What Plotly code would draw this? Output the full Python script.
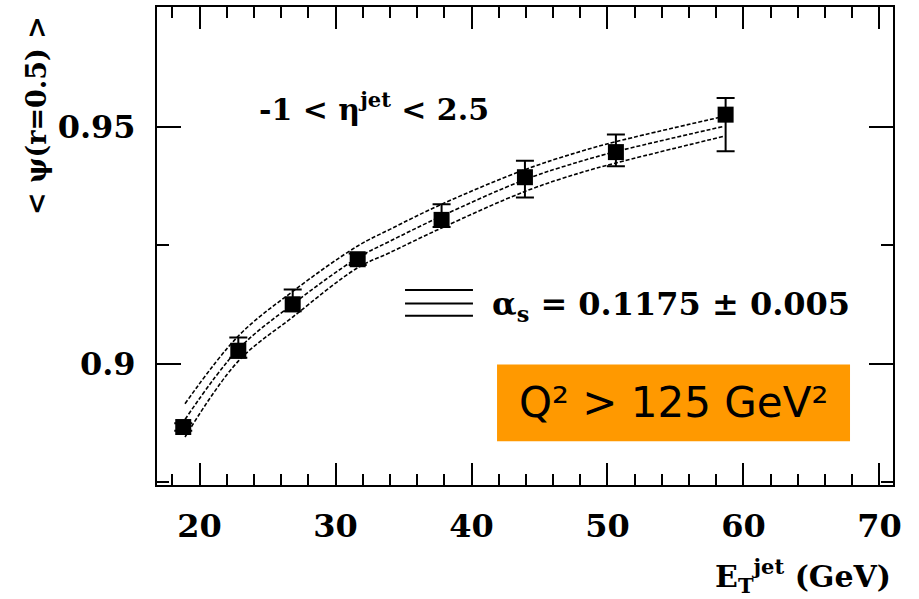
import plotly.graph_objects as go

# ---- data ----
et = [18.80, 22.85, 26.85, 31.63, 37.80, 43.93, 50.62, 58.69]
psi = [0.8866, 0.9027, 0.9125, 0.9220, 0.9303, 0.9393, 0.9446, 0.9525]
err_up = [0.0008, 0.0028, 0.0031, 0.0012, 0.0033, 0.0035, 0.0037, 0.0035]
err_dn = [0.0008, 0.0015, 0.0015, 0.0012, 0.0015, 0.0043, 0.0030, 0.0077]

curve_x = [18.93, 22.85, 26.85, 31.63, 34.0, 37.8, 43.93, 47.97, 50.62, 58.51]
curve_hi = [0.8915, 0.9058, 0.9152, 0.9248, 0.9283, 0.9336, 0.9409, 0.9447, 0.9468, 0.9521]
curve_mid = [0.8882, 0.9030, 0.9125, 0.9223, 0.9258, 0.9311, 0.9388, 0.9426, 0.9447, 0.9500]
curve_lo = [0.8845, 0.9005, 0.9098, 0.9202, 0.9234, 0.9286, 0.9363, 0.9402, 0.9423, 0.9479]

X_RANGE = [16.87, 71.0]
Y_RANGE = [0.87437, 0.97521]
SERIF = "DejaVu Serif"

fig = go.Figure()
for cy in (curve_hi, curve_mid, curve_lo):
    fig.add_trace(go.Scatter(x=curve_x, y=cy, mode="lines", line_shape="spline",
                             line=dict(color="black", width=1.6, dash="4px,2px"),
                             hoverinfo="skip", showlegend=False))

fig.add_trace(go.Scatter(
    x=et, y=psi, mode="markers",
    marker=dict(symbol="square", size=16, color="black"),
    error_y=dict(type="data", symmetric=False, array=err_up, arrayminus=err_dn,
                 color="black", thickness=2, width=9),
    showlegend=False))

fig.update_layout(
    xaxis=dict(range=X_RANGE, tickmode="linear", tick0=20, dtick=10, ticks="inside",
               ticklen=22, tickwidth=2, tickcolor="black", ticklabelstandoff=12,
               tickfont=dict(family=SERIF, size=32, color="black", weight="bold"),
               minor=dict(ticks="inside", tickmode="linear", tick0=0, dtick=2,
                          ticklen=11, tickwidth=2, tickcolor="black", showgrid=False),
               showline=True, linecolor="black", linewidth=2, mirror="allticks",
               showgrid=False, zeroline=False),
    yaxis=dict(range=Y_RANGE, tickmode="linear", tick0=0.9, dtick=0.05, ticks="inside",
               ticklen=24, tickwidth=2, tickcolor="black", ticklabelstandoff=13,
               tickfont=dict(family=SERIF, size=32, color="black", weight="bold"),
               minor=dict(ticks="inside", tickmode="linear", tick0=0, dtick=0.025,
                          ticklen=12, tickwidth=2, tickcolor="black", showgrid=False),
               showline=True, linecolor="black", linewidth=2, mirror="allticks",
               showgrid=False, zeroline=False),
)

shapes = [dict(type="rect", xref="paper", yref="paper", x0=0.462, x1=0.9416,
               y0=0.0917, y1=0.2521, fillcolor="#FF9900", line=dict(width=0),
               layer="above")]
for yy in (0.4077, 0.3798, 0.3542):
    shapes.append(dict(type="line", xref="paper", yref="paper", x0=0.337, x1=0.4293,
                       y0=yy, y1=yy, line=dict(color="black", width=2)))

annotations = [
    dict(text="Q² > 125 GeV²", xref="paper", yref="paper", x=0.7018, y=0.172,
         xanchor="center", yanchor="middle", showarrow=False,
         font=dict(family="DejaVu Sans", size=42, color="black")),
    dict(text="<b>α<sub>s</sub> = 0.1175 ± 0.005</b>", xref="paper", yref="paper",
         x=0.4524, y=0.375, xanchor="left", yanchor="middle", showarrow=False,
         font=dict(family=SERIF, size=32, color="black")),
    dict(text="<b>-1 < η<sup>jet</sup> < 2.5</b>", xref="paper", yref="paper",
         x=0.136, y=0.79, xanchor="left", yanchor="middle", showarrow=False,
         font=dict(family=SERIF, size=30, color="black")),
    dict(text="<b>E<sub>T</sub><sup>jet</sup> (GeV)</b>", xref="paper", yref="paper",
         x=1.0, y=-0.19, xanchor="right", yanchor="middle", showarrow=False,
         font=dict(family=SERIF, size=30, color="black")),
    dict(text="<b>< ψ(r=0.5) ></b>", xref="paper", yref="paper",
         x=-0.163, y=0.772, xanchor="center", yanchor="middle", textangle=-90,
         showarrow=False, font=dict(family=SERIF, size=27, color="black")),
]

fig.update_layout(width=919, height=599, margin=dict(l=157, r=26, t=5, b=114),
                  paper_bgcolor="white", plot_bgcolor="white",
                  shapes=shapes, annotations=annotations)

fig.write_html("out.html")
